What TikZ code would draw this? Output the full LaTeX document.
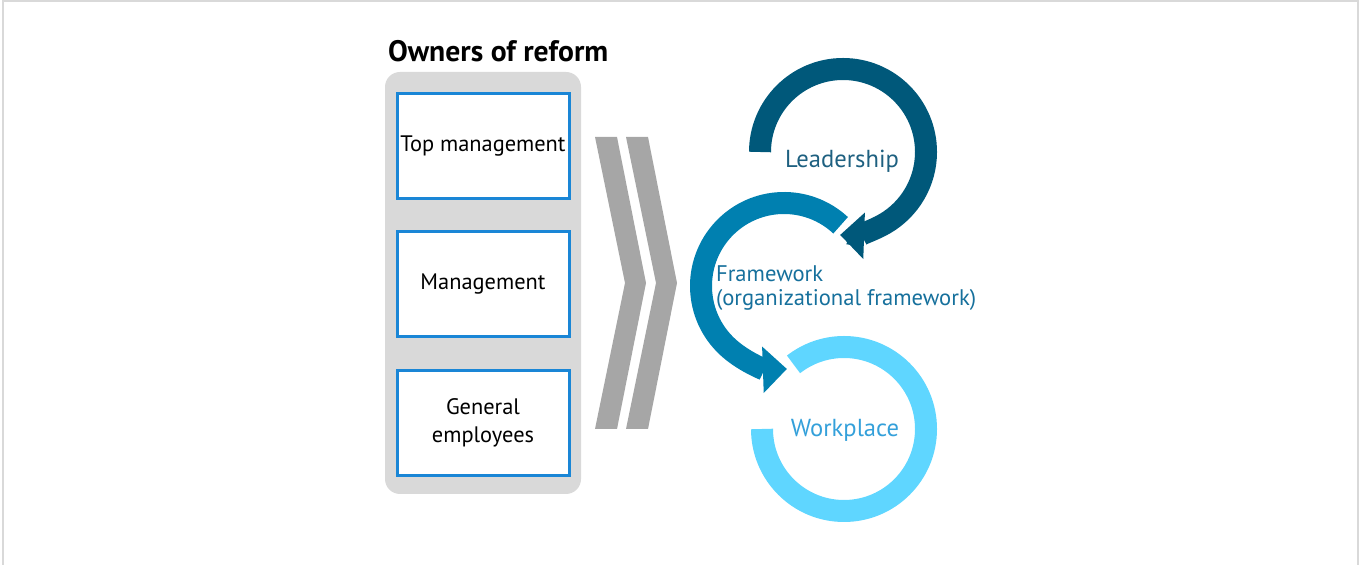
\documentclass[tikz,border=0pt]{standalone}
\usepackage{fontspec}
\setmainfont{PT Sans}
\usetikzlibrary{arrows.meta, positioning, calc}
\definecolor{boxblue}{RGB}{26,134,214}
\definecolor{panelgray}{RGB}{217,217,217}
\definecolor{chevgray}{RGB}{166,166,166}
\definecolor{leaddark}{RGB}{0,88,122}
\definecolor{framemid}{RGB}{0,128,176}
\definecolor{worklight}{RGB}{95,214,255}
\definecolor{leadtext}{RGB}{30,96,128}
\definecolor{frametext}{RGB}{22,112,156}
\definecolor{worktext}{RGB}{52,160,218}

\begin{document}
\begin{tikzpicture}[x=0.5pt, y=-0.5pt,
  ownerbox/.style={draw=boxblue, line width=1.5pt, fill=white, minimum width=86pt, minimum height=52.5pt, inner sep=0pt, align=center, font=\fontsize{11.2}{14}\selectfont},
  chev/.style={fill=chevgray},
  ringarc/.style={line width=11pt},
  ringtip/.style={-{Triangle[width=22.5pt, length=12pt]}},
  ringlabel/.style={font=\fontsize{12.3}{14}\selectfont}]
  \useasboundingbox (0,0) rectangle (1360,565);
  \draw[gray!30, line width=1pt] (3,1) rectangle (1358,575);

  % owners of reform
  \node[anchor=west, font=\fontsize{14.8}{17}\selectfont\bfseries] (title) at (381,51) {Owners of reform};
  \fill[panelgray, rounded corners=7.5pt] (385,72) rectangle (581,494);
  \node[ownerbox] (top) at (483,146) {Top management};
  \node[ownerbox, below=15.25pt of top] (mgmt) {Management};
  \node[ownerbox, below=15.25pt of mgmt] (staff) {General\\employees};

  % chevrons
  \foreach \dx in {0,31}
    \fill[chev, xshift=\dx*0.5pt] (595,137) -- (617,137) -- (646,283) -- (617,429) -- (595,429) -- (625,283) -- cycle;

  % cycle of reform
  \coordinate (cLead) at (843,152);
  \coordinate (cFrame) at (784,286);
  \coordinate (cWork) at (844,429);
  \draw[ringarc, worklight] ($(cWork)+(-82,0)$) arc[start angle=-180, end angle=-488, radius=82];
  \draw[ringarc, framemid, ringtip] ($(cFrame)+(-47:83)$) arc[start angle=-47, end angle=-272, radius=83];
  \draw[ringarc, leaddark, ringtip] ($(cLead)+(-83,0)$) arc[start angle=-180, end angle=92, radius=83];

  \node[ringlabel, text=leadtext] (lead) at (842,161) {Leadership};
  \node[ringlabel, font=\fontsize{11.3}{12}\selectfont, text=frametext, anchor=west, align=left] (frame) at (709,288) {Framework\\(organizational framework)};
  \node[ringlabel, text=worktext] (work) at (845,430) {Workplace};
\end{tikzpicture}
\end{document}
